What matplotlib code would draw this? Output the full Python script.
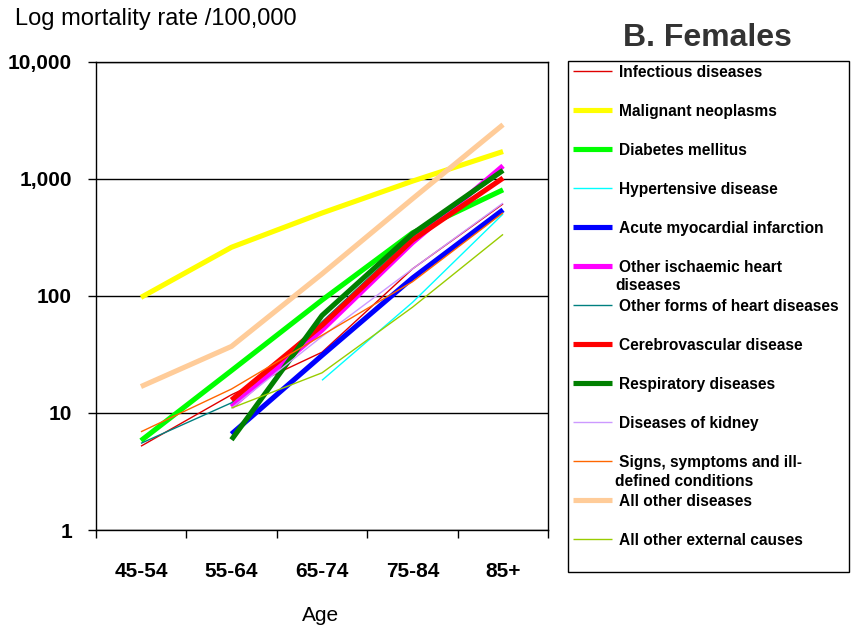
import numpy as np
import matplotlib
matplotlib.use("Agg")
import matplotlib.pyplot as plt
from matplotlib.lines import Line2D
from matplotlib.patches import Rectangle
from matplotlib.ticker import FixedLocator, NullFormatter, FixedFormatter

plt.rcParams['font.family'] = ['Liberation Sans', 'DejaVu Sans']

ages = ['45-54', '55-64', '65-74', '75-84', '85+']
nan = np.nan

infectious      = [5.2, 14.3, 33, 170, 610]
malignant       = [97, 260, 510, 955, 1710]
diabetes        = [5.8, 23, 92, 345, 805]
hypertensive    = [nan, nan, 19, 88, 500]
acute_mi        = [nan, 6.6, 31, 142, 543]
other_ischaemic = [nan, 11.3, 51, 285, 1290]
other_heart     = [5.5, 12.2, 60, 320, 1150]
cerebro         = [nan, 12.9, 56, 300, 1014]
respiratory     = [nan, 5.9, 68, 340, 1180]
kidney          = [nan, 11, 45, 170, 620]
signs           = [6.9, 16, 46, 132, 512]
other_diseases  = [16.8, 37, 154, 675, 2900]
external        = [nan, 11, 22, 80, 335]

series_labels = ['Infectious diseases', 'Malignant neoplasms', 'Diabetes mellitus',
                 'Hypertensive disease', 'Acute myocardial infarction',
                 'Other ischaemic heart\ndiseases', 'Other forms of heart diseases',
                 'Cerebrovascular disease', 'Respiratory diseases', 'Diseases of kidney',
                 'Signs, symptoms and ill-\ndefined conditions', 'All other diseases',
                 'All other external causes']
series_values = [infectious, malignant, diabetes, hypertensive, acute_mi, other_ischaemic,
                 other_heart, cerebro, respiratory, kidney, signs, other_diseases, external]

y_ticks = [1, 10, 100, 1000, 10000]
y_ticklabels = ['1', '10', '100', '1,000', '10,000']

colors = ['#E00000', '#FFFF00', '#00FF00', '#00FFFF', '#0000FF', '#FF00FF', '#008080',
          '#FF0000', '#008000', '#CC99FF', '#FF6600', '#FFCC99', '#99CC00']
thick = 3.7
thin = 1.0
widths = [thin, thick, thick, thin, thick, thick, thin, thick, thick, thin, thin, thick, thin]

W, H = 856, 630
fig = plt.figure(figsize=(W / 100, H / 100), dpi=100)
fig.patch.set_facecolor('white')

x0, x1, y0, y1 = 95.7, 548.3, 61.7, 530
ax = fig.add_axes([x0 / W, 1 - y1 / H, (x1 - x0) / W, (y1 - y0) / H])

x = np.arange(len(ages))
for vals, c, lw in zip(series_values, colors, widths):
    ax.plot(x, vals, color=c, lw=lw, solid_capstyle='butt', zorder=3)

ax.set_yscale('log')
ax.set_ylim(1, 10000)
ax.set_xlim(-0.5, len(ages) - 0.5)
ax.yaxis.set_major_locator(FixedLocator(y_ticks))
ax.yaxis.set_major_formatter(FixedFormatter(y_ticklabels))
ax.yaxis.set_minor_locator(FixedLocator([]))
ax.yaxis.set_minor_formatter(NullFormatter())
ax.tick_params(axis='y', which='major', direction='out', length=6, width=1,
               pad=11, labelsize=15, color='black')
for t in ax.get_yticklabels():
    t.set_fontweight('bold')

ax.xaxis.set_major_locator(FixedLocator(np.arange(len(ages) + 1) - 0.5))
ax.xaxis.set_major_formatter(NullFormatter())
ax.xaxis.set_minor_locator(FixedLocator(x))
ax.xaxis.set_minor_formatter(FixedFormatter(ages))
ax.tick_params(axis='x', which='major', direction='out', length=6, width=1)
ax.tick_params(axis='x', which='minor', length=0, pad=23, labelsize=15)
for t in ax.get_xticklabels(minor=True):
    t.set_fontweight('bold')

ax.grid(True, axis='y', which='major', color='black', lw=1, zorder=1)
ax.set_axisbelow(True)
for s in ax.spines.values():
    s.set_color('black')
    s.set_linewidth(1)

fig.text(15 / W, 1 - 25 / H, 'Log mortality rate /100,000', fontsize=17,
         ha='left', va='baseline')
fig.text(321 / W, 1 - 621 / H, 'Age', fontsize=15, ha='center', va='baseline')
fig.text(623.3 / W, 1 - 45.7 / H, 'B. Females', fontsize=23, fontweight='bold',
         color='#333333', ha='left', va='baseline')

# legend drawn in pixel coordinates
lax = fig.add_axes([0, 0, 1, 1], facecolor='none')
lax.set_xlim(0, W)
lax.set_ylim(H, 0)
lax.axis('off')
lax.add_patch(Rectangle((567.7, 60.7), 849 - 567.7, 571.7 - 60.7, fill=False,
                        edgecolor='black', lw=1))
for i, (lab, c, lw) in enumerate(zip(series_labels, colors, widths)):
    ly = 71 + 39.03 * i
    lax.add_line(Line2D([573.3, 612.3], [ly, ly], color=c, lw=lw, solid_capstyle='butt'))
    lines = lab.split('\n')
    lax.text(619.3, ly + 5.8, lines[0], fontsize=11.2, fontweight='bold',
             color='black', ha='left', va='baseline')
    if len(lines) > 1:
        lax.text(615.5, ly + 5.8 + 18.5, lines[1], fontsize=11.2, fontweight='bold',
                 color='black', ha='left', va='baseline')

fig.savefig('out.png', dpi=100, facecolor='white')
